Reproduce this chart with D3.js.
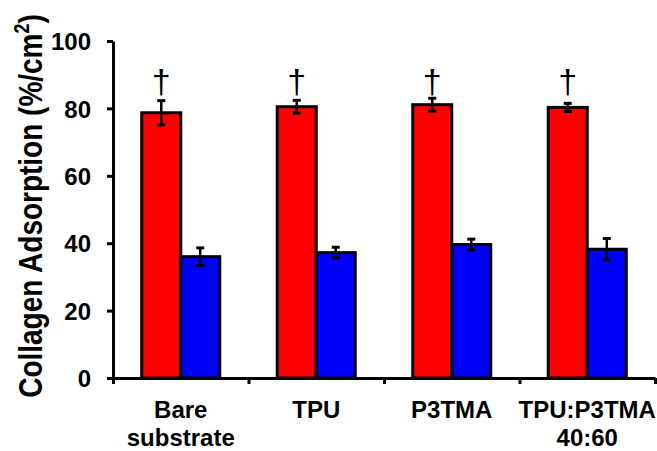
<!DOCTYPE html>
<html>
<head>
<meta charset="utf-8">
<script src="https://cdn.jsdelivr.net/npm/d3@7/dist/d3.min.js"></script>
<style>
  html, body { margin: 0; padding: 0; background: #fff; }
  svg { display: block; }
  text { font-family: "Liberation Sans", Arial, sans-serif; font-weight: bold; fill: #000; }
</style>
</head>
<body>
<svg id="chart" width="657" height="451"></svg>
<script>
// ---- data ----
const categories = ["Bare substrate", "TPU", "P3TMA", "TPU:P3TMA 40:60"];
const categoryLines = [["Bare", "substrate"], ["TPU"], ["P3TMA"], ["TPU:P3TMA", "40:60"]];
const seriesNames = ["red", "blue"];
const redValues = [78.7, 80.5, 81.1, 80.3];
const redErrors = [3.6, 1.9, 1.9, 1.2];
const blueValues = [36.0, 37.2, 39.6, 38.2];
const blueErrors = [2.6, 1.6, 1.6, 3.2];
const daggerLevel = [84.6, 84.6, 84.6, 84.6];
const yTicks = [0, 20, 40, 60, 80, 100];
const yTitle = "Collagen Adsorption (%/cm";

// ---- layout ----
const svg = d3.select("#chart");
const mLeft = 113, mRight = 655, mTop = 41, mBottom = 378;
const colors = { red: "#ff0000", blue: "#0000ff" };

const x = d3.scaleBand().domain(categories).range([mLeft, mRight]).paddingInner(0).paddingOuter(0);
const xs = d3.scaleBand().domain(seriesNames).range([0, x.bandwidth()]).paddingInner(0).paddingOuter(0.737);
const y = d3.scaleLinear().domain([0, 100]).range([mBottom, mTop]);
const xb = d3.scaleLinear().domain([0, categories.length]).range([mLeft, mRight]);

const rows = categories.map((c, i) => ({
  cat: c,
  series: [
    { key: "red", v: redValues[i], e: redErrors[i] },
    { key: "blue", v: blueValues[i], e: blueErrors[i] }
  ]
}));

// bars
const g = svg.append("g");
const grp = g.selectAll("g.grp").data(rows).join("g")
  .attr("class", "grp")
  .attr("transform", d => `translate(${x(d.cat)},0)`);

grp.selectAll("rect").data(d => d.series).join("rect")
  .attr("x", d => xs(d.key))
  .attr("width", xs.bandwidth())
  .attr("y", d => y(d.v))
  .attr("height", d => y(0) - y(d.v))
  .attr("fill", d => colors[d.key])
  .attr("stroke", "#000")
  .attr("stroke-width", 3);

// error bars
const eb = grp.selectAll("g.eb").data(d => d.series).join("g").attr("class", "eb")
  .attr("transform", d => `translate(${xs(d.key) + xs.bandwidth() / 2},0)`);
eb.append("line")
  .attr("x1", 0).attr("x2", 0)
  .attr("y1", d => y(d.v + d.e)).attr("y2", d => y(d.v - d.e))
  .attr("stroke", "#000").attr("stroke-width", 2.5);
eb.append("line")
  .attr("x1", -4).attr("x2", 4)
  .attr("y1", d => y(d.v + d.e)).attr("y2", d => y(d.v + d.e))
  .attr("stroke", "#000").attr("stroke-width", 3);
eb.append("line")
  .attr("x1", -4).attr("x2", 4)
  .attr("y1", d => y(d.v - d.e)).attr("y2", d => y(d.v - d.e))
  .attr("stroke", "#000").attr("stroke-width", 3);

// daggers
grp.append("text")
  .attr("x", xs("red") + xs.bandwidth() / 2)
  .attr("y", (d, i) => y(daggerLevel[i]))
  .attr("text-anchor", "middle")
  .style("font-weight", "normal")
  .style("font-size", "34px")
  .text("\u2020");

// y axis
const ya = svg.append("g").attr("transform", `translate(${mLeft},0)`)
  .call(d3.axisLeft(y).tickValues(yTicks).tickSize(6).tickSizeOuter(0).tickPadding(16));
ya.select(".domain").attr("stroke", "#000").attr("stroke-width", 3);
ya.selectAll(".tick line").attr("stroke", "#000").attr("stroke-width", 3);
ya.selectAll(".tick text").style("font-size", "24px").style("font-family", "Liberation Sans, Arial, sans-serif").style("font-weight", "bold").attr("dy", "0.36em");

// x axis (boundary ticks)
const xa = svg.append("g").attr("transform", `translate(0,${mBottom})`)
  .call(d3.axisBottom(xb).tickValues(d3.range(categories.length + 1)).tickSize(6).tickSizeOuter(0).tickFormat(""));
xa.select(".domain").attr("stroke", "#000").attr("stroke-width", 3);
xa.selectAll(".tick line").attr("stroke", "#000").attr("stroke-width", 3);

// category labels
const cl = svg.append("g");
categories.forEach((c, i) => {
  const t = cl.append("text")
    .attr("x", x(c) + x.bandwidth() / 2)
    .attr("y", 418)
    .attr("text-anchor", "middle")
    .style("font-size", "24px");
  categoryLines[i].forEach((ln, j) => {
    t.append("tspan").attr("x", x(c) + x.bandwidth() / 2).attr("dy", j === 0 ? 0 : 28).text(ln);
  });
});

// y title
const tt = svg.append("text")
  .attr("transform", "translate(42,206) scale(1.2,1) rotate(-90)")
  .attr("text-anchor", "middle")
  .style("font-size", "28px");
tt.append("tspan").text(yTitle);
tt.append("tspan").attr("dy", -11).style("font-size", "18px").text("2");
tt.append("tspan").attr("dy", 11).text(")");
</script>
</body>
</html>
